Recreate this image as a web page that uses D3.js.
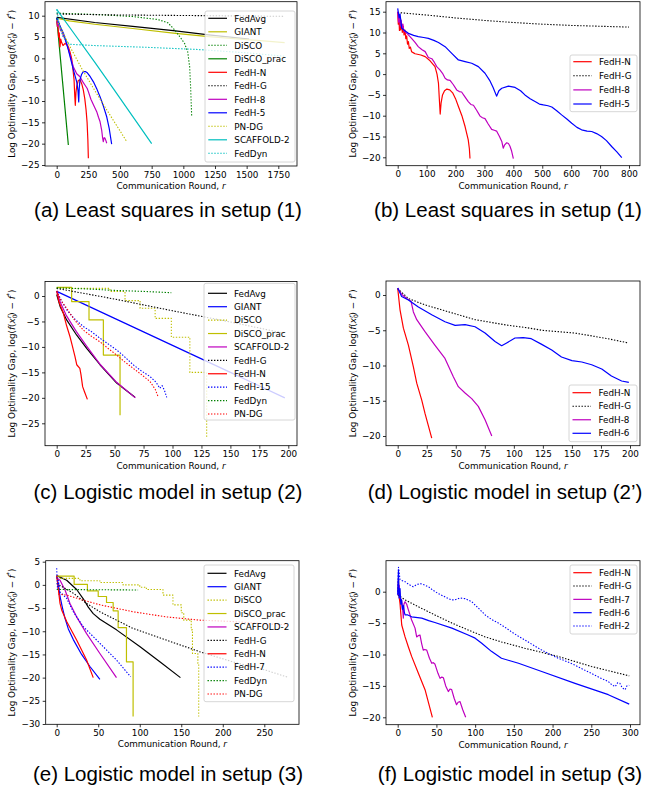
<!DOCTYPE html>
<html><head><meta charset="utf-8">
<script src="https://cdn.jsdelivr.net/npm/d3@7"></script>
<style>body{margin:0;background:#fff} svg{display:block}</style>
</head><body>
<svg id="c" width="649" height="793"></svg>
<script>
// ---------------- DATA ----------------
// (a) Least squares in setup (1)
const a_FedAvg = [[0,9.6],[300,8.4],[600,7.5],[921,6.5],[1200,5.5],[1520,4.5]];
const a_GIANT = [[0,9.4],[100,8.8],[300,8.0],[600,7.0],[921,5.9],[1200,5.1],[1500,4.4],[1800,3.7]];
const a_DiSCO = [[0,10.6],[300,10.3],[600,9.8],[800,9.1],[880,8.3],[930,6.7],[974,5.0],[1010,3.5],[1035,1.5],[1050,-2],[1058,-7],[1066,-13.7]];
const a_DiSCO_prac = [[0,9.5],[46,-5.4],[92,-20.3]];
const a_FedH_N = [[0,9],[5,7.5],[10,8],[15,5],[20,6],[26,2.7],[32,4.5],[39,3.7],[50,3],[66,3.5],[80,3.2],[92,2.7],[105,1.5],[118,0],[128,-2.5],[137,-5],[143,-9],[147,-11],[152,-8],[158,-6.6],[170,-5.2],[184,-5],[198,-6],[210,-7.4],[222,-9.5],[232,-12.1],[240,-15],[246,-19],[250,-23.4]];
const a_FedH_G = [[0,10.4],[400,10.2],[800,10.1],[1200,10.0],[1600,9.9],[1800,9.85]];
const a_FedH_8 = [[0,9],[10,7.5],[20,8.2],[30,6.5],[39,6.6],[50,5.5],[65,4.6],[79,3.5],[105,0.8],[132,-2],[158,-3.6],[184,-4.3],[204,-5.4],[224,-6.3],[240,-7],[250,-7.8],[270,-9.6],[290,-10.9],[316,-12.5],[330,-13.8],[342,-14.8],[355,-16.8],[362,-18.5],[368,-19.5],[375,-18.6],[382,-18.75],[390,-19.4],[395,-19.9]];
const a_FedH_5 = [[0,9.5],[20,8],[53,5.9],[92,2],[132,-2.7],[158,-5.5],[168,-7.5],[174,-10.2],[178,-7],[184,-5],[196,-3.8],[210,-3.1],[226,-3.1],[242,-3.4],[265,-4.3],[290,-5.5],[316,-7.1],[342,-9],[370,-11.3],[395,-13.7],[415,-16.5],[434,-20.1]];
const a_PN_DG = [[0,9],[100,3],[200,-2.5],[300,-7.5],[400,-12.3],[500,-17],[553,-19.5]];
const a_SCAFFOLD_2 = [[0,11.5],[150,5.3],[300,-0.9],[450,-7.2],[600,-13.6],[750,-20]];
const a_FedDyn = [[0,11.5],[20,8],[50,5],[100,3.3],[300,3],[700,2.6],[1100,2.1],[1500,1.3],[1800,0.5]];

// (b) Least squares in setup (1)
const b_FedH_N = [[0,15],[2,12],[4,14],[6,10.5],[8,12.5],[10,10.6],[13,12.2],[16,10],[19,11.5],[22,9.4],[25,10.6],[28,8.5],[31,9.2],[34,7.2],[37,7.8],[40,6.2],[44,6.5],[48,5.4],[55,5.1],[60,4.9],[80,4.6],[95,4.2],[112,3.2],[129,1.8],[136,0],[141,-2.2],[144,-6],[147,-9.6],[150,-7],[155,-5],[162,-4],[170,-3.6],[180,-3.8],[190,-4.5],[200,-5.9],[210,-7.8],[222,-10],[233,-12.6],[244,-15.8],[248,-18],[250,-20.3]];
const b_FedH_G = [[0,14.8],[100,14.2],[200,13.5],[300,12.9],[400,12.4],[500,12.0],[600,11.7],[700,11.5],[800,11.3]];
const b_FedH_8 = [[0,15],[3,12.5],[6,14],[9,11.5],[12,13],[15,11],[18,12],[21,10.4],[25,10.2],[36,9.5],[48,8.6],[60,7.6],[71,6.6],[83,5.9],[95,5.4],[106,4],[118,3.7],[127,2.8],[135,1.8],[146,1],[155,0.2],[164,-1],[172,-1.4],[181,-1.5],[192,-2.5],[204,-3.8],[213,-4.2],[221,-4.3],[232,-5.4],[244,-6.6],[253,-7.3],[262,-7.5],[273,-8.7],[285,-10.1],[293,-10.5],[302,-10.7],[313,-12],[325,-13.3],[334,-13.5],[342,-13.7],[352,-15],[360,-16.2],[365,-17.8],[370,-17],[377,-16.5],[383,-16.7],[388,-17.3],[394,-18.5],[400,-20.3]];
const b_FedH_5 = [[0,15.8],[5,13.5],[8,14.5],[14,11],[25,10.4],[37,9.8],[55,9.3],[71,9],[90,8.8],[106,8.6],[125,8.1],[141,7.6],[164,6.6],[187,5],[210,3.4],[233,3],[256,2.6],[279,1.8],[302,0.2],[318,-1.5],[330,-3.2],[342,-5.3],[350,-4],[360,-3.4],[383,-2.9],[406,-3.2],[425,-4],[440,-5],[458,-5.9],[475,-6.6],[490,-7.2],[504,-7.4],[520,-7.6],[533,-7.9],[550,-8.8],[567,-9.8],[585,-10.8],[602,-11.8],[620,-12.8],[636,-13.4],[655,-13.7],[671,-13.8],[688,-14.3],[705,-15],[722,-16],[740,-17.4],[758,-18.7],[775,-20.1]];

// (c) Logistic model in setup (2)
const c_FedAvg = [[0,0.3],[3,-2.1],[8.6,-4.7],[17.3,-7.7],[25.9,-10.3],[37.4,-13.5],[51.8,-17.1],[67.6,-19.9]];
const c_GIANT = [[0,0.9],[50,-4.4],[100,-9.7],[150,-15],[197,-20]];
const c_DiSCO = [[0,1.5],[46,1.5],[46,0.9],[59,0.9],[59,-0.9],[72,-0.9],[72,-2.4],[85,-2.4],[85,-4.4],[99,-4.4],[99,-8.1],[115,-8.1],[115,-15],[129.5,-15],[129.5,-28]];
const c_DiSCO_prac = [[0,1.7],[12.9,1.7],[12.9,-1.1],[27.9,-1.1],[27.9,-4.7],[40.3,-4.7],[40.3,-11.6],[54.7,-11.6],[54.7,-23.4]];
const c_SCAFFOLD_2 = [[0,1],[3,-1.2],[8,-3.7],[17,-7],[26,-9.9],[37,-13.3],[52,-17],[68,-20]];
const c_FedH_G = [[0,1.5],[50,-0.6],[100,-2.9],[150,-5.1],[196,-7.3]];
const c_FedH_N = [[0,1],[2,-1.2],[5.8,-3.4],[8.5,-5.8],[11.5,-8],[13.5,-9.8],[15.8,-11.9],[17.3,-13.5],[20,-14.2],[21,-15.5],[22.4,-17.8],[24,-18.8],[26.5,-20.3]];
const c_FedH_15 = [[0,1],[4,-0.9],[8.6,-2.7],[15,-4.4],[23,-6],[30,-7],[37.4,-8.3],[45,-9.5],[51.8,-10.6],[58,-11.8],[66,-13.5],[73,-14.7],[80.6,-15.8],[86,-17],[89,-18.1],[91,-17.6],[93,-18.5],[95,-19.9]];
const c_FedDyn = [[0,1.6],[25,1.4],[50,1.1],[75,0.9],[99,0.65]];
const c_PN_DG = [[0,1],[4,-1],[8.6,-2.4],[15,-4.6],[23,-6.7],[30,-7.9],[37.4,-9],[45,-10.4],[51.8,-11.6],[58,-12.8],[66,-14.2],[73,-15.4],[80.6,-16.8],[85,-18.3],[87.8,-19.9]];

// (d) Logistic model in setup (2')
const d_FedH_N = [[0,0.95],[2,-2.1],[4.9,-4.7],[9.2,-7.1],[13.5,-10.2],[16.4,-12.5],[20.7,-14.9],[23.5,-16.8],[29.3,-20.3]];
const d_FedH_G = [[0,0.9],[9.2,-0.5],[23.5,-1.4],[37.9,-2.1],[52.2,-2.8],[66.6,-3.5],[80.9,-3.9],[95,-4.3],[109.6,-4.6],[124,-5],[138,-5.2],[152.6,-5.4],[167,-5.8],[181,-6.2],[198.6,-6.8]];
const d_FedH_8 = [[0,1],[3.4,0.1],[7.7,-0.5],[11.5,-0.9],[13.5,-2.4],[16.4,-3.5],[23.5,-5.2],[32,-7.1],[40.7,-9],[47.9,-11.6],[52.2,-13],[58,-13.9],[63.7,-14.7],[69.4,-15.8],[75.2,-17.7],[81,-20]];
const d_FedH_6 = [[0,1],[3.4,-0.2],[9.2,-0.7],[17.8,-1.7],[29.3,-2.8],[40.7,-3.8],[49.4,-4.3],[58,-4.2],[66.6,-4.5],[75.2,-5.4],[83.8,-6.6],[89.5,-7.2],[93.8,-6.8],[101,-6.1],[108,-6.05],[115,-6.2],[124,-7],[132.6,-7.8],[141,-8.8],[150,-9.3],[158.5,-9.5],[167,-9.9],[175.7,-10.5],[184,-11.5],[192.8,-12.2],[199,-12.4]];

// (e) Logistic model in setup (3)
const e_FedAvg = [[0,2],[12,1],[24,-1],[32,-3],[38,-4.8],[44,-6.2],[52,-7.4],[72,-9.7],[100,-13.3],[125,-16.7],[149,-20]];
const e_GIANT = [[0,2],[2,0],[4,-2.5],[7,-5],[10,-7.2],[14,-9.5],[20,-11.8],[30,-15],[40,-17.6],[52,-20.4]];
const e_DiSCO = [[0,1.4],[28,1.4],[28,0.9],[52,0.9],[52,0.5],[80,0.5],[80,0],[100,0],[100,-0.5],[108,-0.5],[108,-1],[128,-1],[128,-2.2],[140,-2.2],[140,-4.3],[150,-4.3],[150,-6],[153,-6],[153,-7.6],[162,-7.6],[162,-9.7],[163.5,-9.7],[163.5,-14.8],[170,-14.8],[170,-16.9],[171,-16.9],[171,-28.4]];
const e_DiSCO_prac = [[0,1.9],[21,1.9],[21,0.1],[37,0.1],[37,-1.3],[50,-1.3],[50,-2.5],[60,-2.5],[60,-3.8],[68,-3.8],[68,-5.6],[74,-5.6],[74,-9.2],[84,-9.2],[84,-16.6],[92,-16.6],[92,-28.4]];
const e_SCAFFOLD_2 = [[0,1.5],[4,1],[10,-1.1],[16,-4],[24,-6.9],[36,-10.5],[52,-14.8],[72,-20]];
const e_FedH_G = [[0,0.3],[20,-1.8],[36,-4],[52,-5.8],[72,-7.6],[92,-9.4],[132,-11.9],[172,-14.4],[212,-16.6],[252,-18.4],[278,-19.9]];
const e_FedH_N = [[0,2],[2,-1],[4,-4],[6,-5.4],[12,-7.9],[24,-11.9],[36,-16.2],[44,-20]];
const e_FedH_7 = [[0,3.6],[1,-1],[2,1],[4,-1.5],[12,-2.9],[20,-5.8],[32,-9],[52,-12.6],[72,-16.2],[89,-19.8]];
const e_FedDyn = [[0,-1],[50,-1.05],[98,-1.1]];
const e_PN_DG = [[2,-2],[12,-2.2],[32,-3.3],[52,-4.3],[92,-5.8],[132,-6.9],[172,-7.6],[212,-7.9],[250,-8.4],[280,-8.6]];

// (f) Logistic model in setup (3)
const f_FedH_N = [[0,0],[1,2],[1.5,-0.5],[3,-1.9],[5.2,-5.3],[9.5,-7.2],[13.8,-8.8],[18,-10.3],[26.7,-13],[35.3,-15.6],[44.8,-20]];
const f_FedH_G = [[0,-0.5],[9.5,-1.3],[26.7,-2.4],[48,-3.7],[70,-5],[91,-6.1],[113,-7.2],[134,-8],[164,-9],[207,-10.3],[250,-11.9],[299,-13.4]];
const f_FedH_7 = [[0,-0.5],[2,1],[3,-1],[5,-1.3],[6.5,-3],[7.3,-4.2],[8,-2],[9.5,-1.6],[11.6,-2],[13.8,-2.9],[18,-4.5],[22.4,-5.8],[24.5,-7.2],[26.5,-7],[28.8,-6.9],[31,-8.3],[33,-9.3],[35,-9.2],[37.5,-9.3],[41,-10.6],[44,-11.4],[46,-11.3],[48,-11.5],[52,-13],[54.7,-13.8],[57,-13.6],[59,-13.7],[62,-15],[65.4,-15.9],[67.5,-15.5],[69.7,-15.6],[73,-17],[76,-18],[78,-17.6],[80.5,-17.5],[84,-18.8],[87.8,-20]];
const f_FedH_6 = [[0,-0.5],[1,3.4],[1.8,-1],[3,0.5],[4,-2],[5,-1.3],[6,-2.8],[7.3,-2.2],[8.5,-3.2],[9.5,-3.7],[13,-3.7],[18,-4],[31,-4.2],[40,-4.6],[48,-4.9],[70,-5.8],[91,-6.9],[100,-7.4],[108.5,-8.2],[121,-9.5],[134,-10.6],[145,-11],[156,-11.4],[186,-12.7],[229,-14.6],[272,-16.4],[299,-17.9]];
const f_FedH_2 = [[0,0],[1,3.9],[3,1.9],[9.5,1.6],[15,1.1],[20,0.8],[24,1.1],[28.8,1.3],[34,1.1],[39.6,0.8],[46,0.2],[52.5,-0.3],[59,-0.7],[65.4,-1.1],[70,-1.3],[74,-1.3],[80,-1],[87,-1.1],[95.6,-1.6],[104,-2.6],[113,-3.7],[121,-4.4],[130,-5],[139,-5.7],[147,-6.4],[156,-7.1],[164.5,-7.7],[175,-8.5],[186,-9.3],[197,-10],[207.5,-10.6],[218,-11.1],[229,-11.7],[240,-12.4],[250,-13],[261,-13.7],[272,-14.3],[277,-14.9],[281,-15.1],[284,-14.5],[287,-14.6],[290,-15.3],[293.6,-15.6],[296,-15],[299,-14.9]];

// tick values
const a_xTicks = [0,250,500,750,1000,1250,1500,1750], a_yTicks = [-25,-20,-15,-10,-5,0,5,10];
const b_xTicks = [0,100,200,300,400,500,600,700,800], b_yTicks = [-20,-15,-10,-5,0,5,10,15];
const c_xTicks = [0,25,50,75,100,125,150,175,200], c_yTicks = [-25,-20,-15,-10,-5,0];
const d_xTicks = [0,25,50,75,100,125,150,175,200], d_yTicks = [-20,-15,-10,-5,0];
const e_xTicks = [0,50,100,150,200,250], e_yTicks = [-30,-25,-20,-15,-10,-5,0,5];
const f_xTicks = [0,50,100,150,200,250,300], f_yTicks = [-20,-15,-10,-5,0];

const captions = ["(a) Least squares in setup (1)","(b) Least squares in setup (1)","(c) Logistic model in setup (2)","(d) Logistic model in setup (2\u2019)","(e) Logistic model in setup (3)","(f) Logistic model in setup (3)"];

// ---------------- STYLE / LAYOUT ----------------
const K='#000', Y='#bfbf00', G='#008000', R='#ff0000', B='#0000ff', M='#bf00bf', Cc='#00bfbf';
const DOT='1.4,1.6';
const panels = [
 {box:[45,1.7,297,166], xr:[0,1750,56.7,278.3], yr:[10,-25,15.7,165], xt:a_xTicks, yt:a_yTicks, cap:[168,217], ylx:14.5,
  leg:{x0:205,x1:295,y0:11,y1:162,first:18.3,step:13.5,l0:208.3,l1:227,tx:234.3},
  series:[["FedAvg",a_FedAvg,K,null],["GIANT",a_GIANT,Y,null],["DiSCO",a_DiSCO,G,DOT],["DiSCO_prac",a_DiSCO_prac,G,null],
   ["FedH-N",a_FedH_N,R,null],["FedH-G",a_FedH_G,K,DOT],["FedH-8",a_FedH_8,M,null],["FedH-5",a_FedH_5,B,null],
   ["PN-DG",a_PN_DG,Y,DOT],["SCAFFOLD-2",a_SCAFFOLD_2,Cc,null],["FedDyn",a_FedDyn,Cc,DOT]]},
 {box:[386,1.7,640,165.7], xr:[0,800,397.7,629], yr:[15,-20,11.7,157.3], xt:b_xTicks, yt:b_yTicks, cap:[508,217], ylx:356,
  leg:{x0:570,x1:637,y0:55,y1:111.7,first:61.7,step:14.1,l0:573.3,l1:591.7,tx:599},
  series:[["FedH-N",b_FedH_N,R,null],["FedH-G",b_FedH_G,K,DOT],["FedH-8",b_FedH_8,M,null],["FedH-5",b_FedH_5,B,null]]},
 {box:[45,281.5,297,445.7], xr:[0,200,56.7,288.3], yr:[0,-25,296,423.3], xt:c_xTicks, yt:c_yTicks, cap:[168,499], ylx:14.5,
  leg:{x0:204,x1:295,y0:283.3,y1:420,first:293.3,step:13.41,l0:208,l1:227,tx:234},
  series:[["FedAvg",c_FedAvg,K,null],["GIANT",c_GIANT,B,null],["DiSCO",c_DiSCO,Y,DOT],["DiSCO_prac",c_DiSCO_prac,Y,null],
   ["SCAFFOLD-2",c_SCAFFOLD_2,M,null],["FedH-G",c_FedH_G,K,DOT],["FedH-N",c_FedH_N,R,null],["FedH-15",c_FedH_15,B,DOT],
   ["FedDyn",c_FedDyn,G,DOT],["PN-DG",c_PN_DG,R,DOT]]},
 {box:[386,281,640,445.7], xr:[0,200,397.7,630], yr:[0,-20,295,436], xt:d_xTicks, yt:d_yTicks, cap:[505,499], ylx:356,
  leg:{x0:569,x1:637,y0:385,y1:441.7,first:392.7,step:13.53,l0:572.5,l1:591,tx:598.5},
  series:[["FedH-N",d_FedH_N,R,null],["FedH-G",d_FedH_G,K,DOT],["FedH-8",d_FedH_8,M,null],["FedH-6",d_FedH_6,B,null]]},
 {box:[45.7,560.7,299,724.3], xr:[0,250,56.7,264.3], yr:[5,-30,561.7,724], xt:e_xTicks, yt:e_yTicks, cap:[168,780.7], ylx:14.5,
  leg:{x0:204,x1:294,y0:565,y1:701.7,first:573.3,step:13.41,l0:207.5,l1:226.5,tx:234},
  series:[["FedAvg",e_FedAvg,K,null],["GIANT",e_GIANT,B,null],["DiSCO",e_DiSCO,Y,DOT],["DiSCO_prac",e_DiSCO_prac,Y,null],
   ["SCAFFOLD-2",e_SCAFFOLD_2,M,null],["FedH-G",e_FedH_G,K,DOT],["FedH-N",e_FedH_N,R,null],["FedH-7",e_FedH_7,B,DOT],
   ["FedDyn",e_FedDyn,G,DOT],["PN-DG",e_PN_DG,R,DOT]]},
 {box:[386,560.7,640,724.7], xr:[0,300,397.7,630], yr:[0,-20,591.7,717.3], xt:f_xTicks, yt:f_yTicks, cap:[510,780.7], ylx:356,
  leg:{x0:570,x1:637,y0:565,y1:634,first:572.7,step:13.33,l0:573.3,l1:591.7,tx:599},
  series:[["FedH-N",f_FedH_N,R,null],["FedH-G",f_FedH_G,K,DOT],["FedH-7",f_FedH_7,M,null],["FedH-6",f_FedH_6,B,null],["FedH-2",f_FedH_2,B,DOT]]}
];

// ---------------- DRAW ----------------
const svg = d3.select('#c');
const FONT = 'DejaVu Sans, sans-serif', FS = 8.8;
const fmt = d3.format('d');

panels.forEach((p,i)=>{
  const [L,T,Rr,Bt] = p.box;
  const x = d3.scaleLinear().domain([p.xr[0],p.xr[1]]).range([p.xr[2],p.xr[3]]);
  const y = d3.scaleLinear().domain([p.yr[0],p.yr[1]]).range([p.yr[2],p.yr[3]]);
  const g = svg.append('g');
  const cid = 'clip'+i;
  svg.append('clipPath').attr('id',cid).append('rect').attr('x',L).attr('y',T).attr('width',Rr-L).attr('height',Bt-T);
  const plot = g.append('g').attr('clip-path',`url(#${cid})`);
  const line = d3.line().x(d=>x(d[0])).y(d=>y(d[1]));
  p.series.forEach(s=>{
    plot.append('path').attr('d',line(s[1])).attr('fill','none').attr('stroke',s[2])
      .attr('stroke-width',s[3]?1.1:1.2).attr('stroke-dasharray',s[3]||null).attr('stroke-linejoin','round');
  });
  // axes
  const xa = g.append('g').attr('transform',`translate(0,${Bt})`)
    .call(d3.axisBottom(x).tickValues(p.xt).tickFormat(fmt).tickSize(3).tickPadding(2.5));
  const ya = g.append('g').attr('transform',`translate(${L},0)`)
    .call(d3.axisLeft(y).tickValues(p.yt).tickFormat(fmt).tickSize(3).tickPadding(2.5));
  [xa,ya].forEach(a=>{a.select('.domain').remove();
    a.selectAll('text').attr('font-family',FONT).attr('font-size',FS).attr('fill','#000');
    a.selectAll('line').attr('stroke','#000').attr('stroke-width',0.8);});
  g.append('rect').attr('x',L).attr('y',T).attr('width',Rr-L).attr('height',Bt-T)
    .attr('fill','none').attr('stroke','#000').attr('stroke-width',0.8);
  // x label
  const xl = g.append('text').attr('x',(L+Rr)/2).attr('y',Bt+23).attr('text-anchor','middle')
    .attr('font-family',FONT).attr('font-size',FS);
  xl.append('tspan').text('Communication Round, ');
  xl.append('tspan').attr('font-style','italic').text('r');
  // y label
  const cy = (T+Bt)/2;
  const yl = g.append('text').attr('transform',`translate(${p.ylx},${cy}) rotate(-90)`).attr('text-anchor','middle')
    .attr('font-family',FONT).attr('font-size',FS);
  yl.append('tspan').text('Log Optimality Gap, log(');
  yl.append('tspan').attr('font-style','italic').text('f');
  yl.append('tspan').text('(');
  yl.append('tspan').attr('font-style','italic').text('x');
  yl.append('tspan').attr('font-size',6).attr('dy',2).text('0');
  yl.append('tspan').attr('font-size',6).attr('font-style','italic').attr('dx',-3.6).attr('dy',-5.5).text('r');
  yl.append('tspan').attr('dy',3.5).text(') \u2212 ');
  yl.append('tspan').attr('font-style','italic').text('f');
  yl.append('tspan').attr('font-size',6).attr('dy',-3.5).text('*');
  yl.append('tspan').attr('dy',3.5).text(')');
  // legend
  const lg = p.leg;
  g.append('rect').attr('x',lg.x0).attr('y',lg.y0).attr('width',lg.x1-lg.x0).attr('height',lg.y1-lg.y0)
    .attr('rx',2).attr('fill','#fff').attr('fill-opacity',0.8).attr('stroke','#cccccc').attr('stroke-width',0.8);
  p.series.forEach((s,j)=>{
    const yy = lg.first + j*lg.step;
    g.append('line').attr('x1',lg.l0).attr('x2',lg.l1).attr('y1',yy).attr('y2',yy)
      .attr('stroke',s[2]).attr('stroke-width',s[3]?1.1:1.2).attr('stroke-dasharray',s[3]||null);
    g.append('text').attr('x',lg.tx).attr('y',yy+3.2).attr('font-family',FONT).attr('font-size',FS).text(s[0]);
  });
  // caption
  svg.append('text').attr('x',p.cap[0]).attr('y',p.cap[1]).attr('text-anchor','middle')
    .attr('font-family','Liberation Sans, Arial, sans-serif').attr('font-size',20.5).text(captions[i]);
});
</script>
</body></html>
